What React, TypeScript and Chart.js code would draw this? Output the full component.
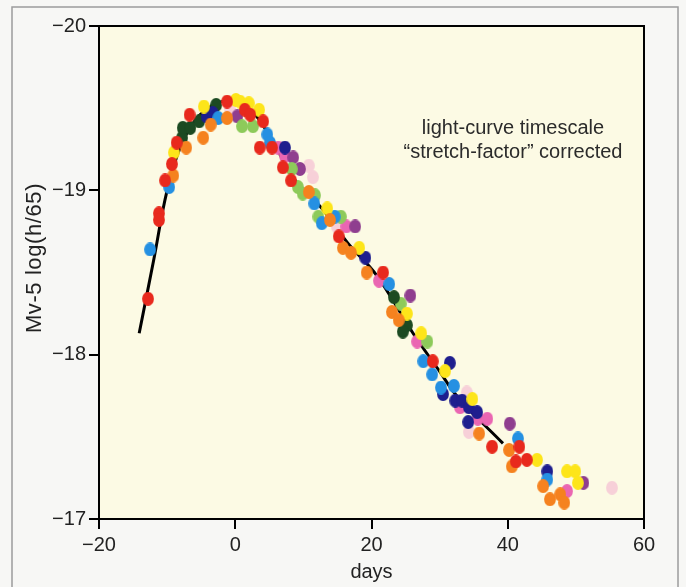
import React, { useEffect, useRef } from "react";
import { Chart, registerables } from "chart.js";
Chart.register(...registerables);

// ---- data (days since maximum, corrected magnitude) ----
const redDays = [-12.8, -11.2, -11.2, -10.3, -9.3, -8.6, -6.7, -1.2, 1.4, 2.2, 4.1, 3.6, 5.4, 7.0, 8.2, 15.2, 21.7, 29.0, 41.7, 41.2, 42.8, 37.7];
const redMags = [-18.34, -18.86, -18.82, -19.06, -19.16, -19.29, -19.46, -19.54, -19.49, -19.46, -19.42, -19.26, -19.26, -19.14, -19.06, -18.72, -18.5, -17.96, -17.44, -17.35, -17.36, -17.44];

const orangeDays = [-9.1, -7.2, -4.7, -3.6, -1.2, 10.8, 13.9, 15.8, 17.0, 19.3, 23.0, 24.0, 35.8, 40.2, 40.6, 45.2, 47.7, 46.2, 48.3];
const orangeMags = [-19.09, -19.26, -19.32, -19.4, -19.44, -18.99, -18.82, -18.65, -18.62, -18.5, -18.26, -18.21, -17.52, -17.42, -17.32, -17.2, -17.15, -17.12, -17.1];

const yellowDays = [-9.0, -4.6, 0.1, 0.7, 2.0, 3.5, 13.5, 18.2, 25.2, 27.3, 30.8, 34.8, 44.3, 48.7, 49.9, 50.3];
const yellowMags = [-19.23, -19.51, -19.55, -19.54, -19.53, -19.49, -18.89, -18.65, -18.25, -18.13, -17.9, -17.73, -17.36, -17.29, -17.29, -17.22];

const blueDays = [-12.5, -9.7, -2.5, 4.7, 5.1, 11.6, 12.7, 14.6, 22.6, 27.6, 28.9, 32.1, 30.2, 41.5, 45.8];
const blueMags = [-18.64, -19.02, -19.44, -19.34, -19.29, -18.92, -18.8, -18.84, -18.43, -17.96, -17.88, -17.81, -17.8, -17.49, -17.24];

const navyDays = [-4.2, -3.3, 7.3, 19.1, 31.5, 30.5, 32.3, 33.3, 34.3, 35.5, 34.2, 45.8];
const navyMags = [-19.45, -19.47, -19.26, -18.59, -17.95, -17.76, -17.72, -17.72, -17.68, -17.65, -17.59, -17.29];

const darkGreenDays = [-7.8, -7.7, -6.6, -5.3, -2.8, 23.3, 25.2, 24.6];
const darkGreenMags = [-19.32, -19.38, -19.38, -19.42, -19.52, -18.35, -18.18, -18.14];

const lightGreenDays = [1.0, 2.6, 8.3, 9.2, 9.9, 11.7, 12.2, 15.5, 24.3, 28.2];
const lightGreenMags = [-19.39, -19.39, -19.13, -19.02, -18.98, -18.97, -18.84, -18.84, -18.31, -18.08];

const purpleDays = [0.3, 8.5, 9.5, 17.6, 25.7, 40.3, 51.1];
const purpleMags = [-19.45, -19.2, -19.13, -18.78, -18.36, -17.58, -17.22];

const pinkDays = [6.3, 7.3, 16.3, 21.1, 26.7, 33.0, 35.6, 37.0, 48.7];
const pinkMags = [-19.26, -19.21, -18.78, -18.45, -18.08, -17.68, -17.61, -17.61, -17.17];

const lightPinkDays = [-0.8, 10.8, 11.4, 14.9, 34.0, 34.3, 55.3];
const lightPinkMags = [-19.5, -19.15, -19.08, -18.78, -17.77, -17.53, -17.19];

const fitDays = [-14.1, -12, -10, -8, -6, -4, -2, 0, 2, 4, 6, 8.8, 12.7, 16.5, 20.8, 26.1, 29.8, 32.7, 39.3];
const fitMags = [-18.13, -18.57, -19.0, -19.27, -19.42, -19.5, -19.54, -19.54, -19.5, -19.4, -19.26, -19.06, -18.89, -18.68, -18.48, -18.13, -17.91, -17.74, -17.46];

const xTickValues = [-20, 0, 20, 40, 60];
const xTickLabels = ["\u221220", "0", "20", "40", "60"];
const yTickValues = [-20, -19, -18, -17];
const yTickLabels = ["\u221220", "\u221219", "\u221218", "\u221217"];

const xTitle = "days";
const yTitle = "Mv-5 log(h/65)";
const noteLines = ["light-curve timescale", "\u201Cstretch-factor\u201D corrected"];

const FONT = '"Liberation Sans", Arial, sans-serif';

const pairs = (xs: number[], ys: number[]) => xs.map((x, i) => ({ x, y: ys[i] }));

export default function App() {
  const ref = useRef<HTMLCanvasElement>(null);
  useEffect(() => {
    document.body.style.margin = "0";
    const canvas = ref.current!;
    const makeDot = (color: string) => {
      const c = document.createElement("canvas");
      c.width = 12;
      c.height = 14;
      const g = c.getContext("2d")!;
      g.fillStyle = color;
      g.beginPath();
      g.ellipse(6, 7, 5.9, 6.9, 0, 0, Math.PI * 2);
      g.fill();
      return c;
    };
    const groups: [string, number[], number[], string][] = [
      ["red", redDays, redMags, "#e8291d"],
      ["orange", orangeDays, orangeMags, "#f5821f"],
      ["yellow", yellowDays, yellowMags, "#fde51a"],
      ["blue", blueDays, blueMags, "#2590e2"],
      ["navy", navyDays, navyMags, "#1e1e8e"],
      ["darkgreen", darkGreenDays, darkGreenMags, "#1c4a22"],
      ["lightgreen", lightGreenDays, lightGreenMags, "#8dca5a"],
      ["purple", purpleDays, purpleMags, "#8f3e8f"],
      ["pink", pinkDays, pinkMags, "#ea66b2"],
      ["lightpink", lightPinkDays, lightPinkMags, "#f7d0d8"],
    ];
    const pointSets: any[] = groups.map(([label, xs, ys, color]) => ({
      type: "scatter",
      label,
      data: pairs(xs, ys),
      pointStyle: makeDot(color),
      pointRadius: 6,
      backgroundColor: color,
      borderWidth: 0,
      order: 0,
    }));

    const deco = {
      id: "deco",
      beforeDraw(chart: any) {
        const { ctx, chartArea: a } = chart;
        ctx.save();
        ctx.fillStyle = "#f7f7f5";
        ctx.fillRect(0, 0, chart.width, chart.height);
        ctx.strokeStyle = "#9c9c9c";
        ctx.lineWidth = 1.5;
        ctx.strokeRect(12, 7, 666, 620);
        ctx.fillStyle = "#fcfae4";
        ctx.fillRect(a.left, a.top, a.right - a.left, a.bottom - a.top);
        ctx.restore();
      },
      afterDraw(chart: any) {
        const { ctx, chartArea: a } = chart;
        ctx.save();
        ctx.strokeStyle = "#000";
        ctx.lineWidth = 2;
        ctx.beginPath();
        ctx.moveTo(a.left, a.top);
        ctx.lineTo(a.right, a.top);
        ctx.lineTo(a.right, a.bottom);
        ctx.stroke();
        ctx.fillStyle = "#2b2b2b";
        ctx.font = `20px ${FONT}`;
        ctx.textAlign = "center";
        ctx.textBaseline = "middle";
        noteLines.forEach((t, i) => ctx.fillText(t, 513, 128 + i * 24));
        ctx.translate(35, 258);
        ctx.rotate(-Math.PI / 2);
        ctx.fillStyle = "#222";
        ctx.font = `22px ${FONT}`;
        try {
          (ctx as any).letterSpacing = "0.6px";
        } catch (e) {}
        ctx.fillText(yTitle, 0, 0);
        ctx.restore();
      },
    };

    const chart = new Chart(canvas, {
      type: "scatter",
      data: {
        datasets: [
          ...pointSets,
          {
            type: "line",
            label: "fit",
            data: pairs(fitDays, fitMags),
            borderColor: "#000",
            borderWidth: 3,
            pointRadius: 0,
            tension: 0.4,
            fill: false,
            order: 1,
          },
        ],
      },
      options: {
        responsive: false,
        animation: false,
        devicePixelRatio: 1,
        layout: { padding: { left: 0, top: 26, right: 42, bottom: 0 } },
        plugins: { legend: { display: false }, tooltip: { enabled: false } },
        scales: {
          x: {
            type: "linear",
            min: -20,
            max: 60,
            afterBuildTicks: (s: any) => {
              s.ticks = xTickValues.map((v) => ({ value: v }));
            },
            afterFit: (s: any) => {
              s.height = 68;
            },
            ticks: {
              color: "#222",
              font: { family: FONT, size: 20 },
              padding: 4,
              maxRotation: 0,
              callback: (v: any) => xTickLabels[xTickValues.indexOf(Number(v))] ?? "",
            },
            grid: { drawOnChartArea: false, color: "#000", lineWidth: 2, tickLength: 10 },
            border: { color: "#000", width: 2 },
            title: { display: true, text: xTitle, color: "#222", font: { family: FONT, size: 20 }, padding: { top: 0, bottom: 3 } },
          },
          y: {
            type: "linear",
            reverse: true,
            min: -20,
            max: -17,
            afterBuildTicks: (s: any) => {
              s.ticks = yTickValues.map((v) => ({ value: v }));
            },
            afterFit: (s: any) => {
              s.width = 99;
            },
            ticks: {
              color: "#222",
              font: { family: FONT, size: 20 },
              padding: 3,
              callback: (v: any) => yTickLabels[yTickValues.indexOf(Number(v))] ?? "",
            },
            grid: { drawOnChartArea: false, color: "#000", lineWidth: 2, tickLength: 10 },
            border: { color: "#000", width: 2 },
          },
        },
      },
      plugins: [deco],
    } as any);
    return () => chart.destroy();
  }, []);
  return (
    <div style={{ width: 686, height: 587 }}>
      <canvas ref={ref} width={686} height={587} style={{ display: "block" }} />
    </div>
  );
}
